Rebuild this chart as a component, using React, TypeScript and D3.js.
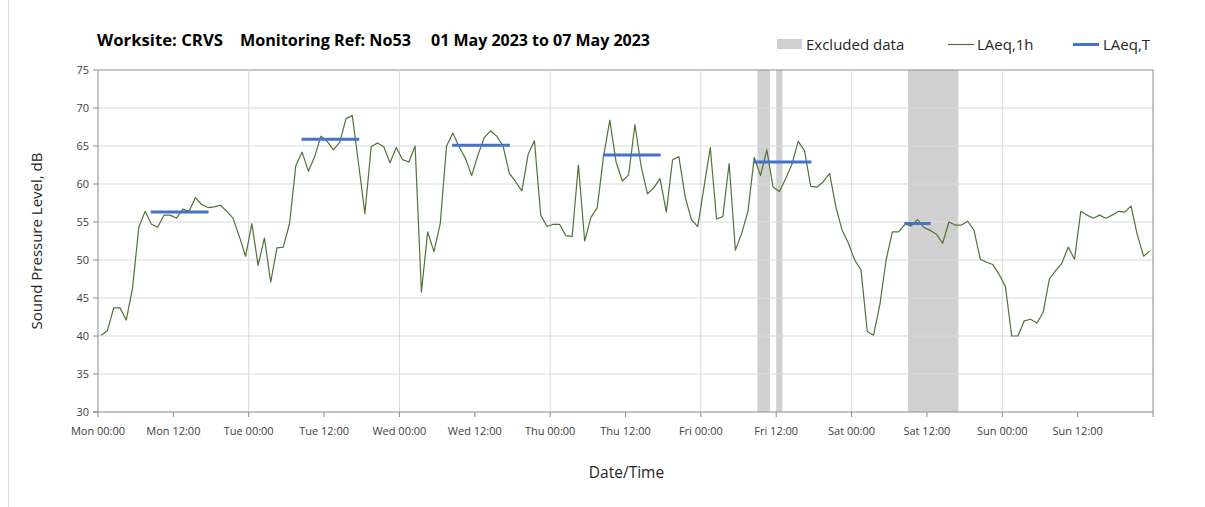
import React from "react";
import * as d3 from "d3";

// Hourly LAeq,1h values (dB), one per hour starting Mon 00:00, plotted at mid-hour
const laeq1h: number[] = [
  40.1, 40.7, 43.7, 43.7, 42.1, 46.3, 54.3, 56.4, 54.7, 54.3, 55.9, 55.9,
  55.5, 56.7, 56.4, 58.2, 57.3, 56.9, 57.0, 57.2, 56.4, 55.5, 53.1, 50.5,
  54.8, 49.3, 52.9, 47.1, 51.6, 51.7, 54.8, 62.4, 64.2, 61.7, 63.6, 66.3,
  65.6, 64.5, 65.5, 68.6, 69.0, 62.6, 56.1, 64.9, 65.4, 64.9, 62.8, 64.8,
  63.2, 62.9, 65.0, 45.8, 53.7, 51.1, 54.8, 65.0, 66.7, 64.9, 63.4, 61.1,
  63.8, 66.1, 67.0, 66.3, 65.0, 61.4, 60.3, 59.1, 63.9, 65.7, 55.9, 54.4,
  54.7, 54.7, 53.2, 53.1, 62.5, 52.5, 55.6, 56.9, 63.6, 68.4, 62.9, 60.4,
  61.2, 67.8, 62.3, 58.7, 59.5, 60.7, 56.3, 63.2, 63.6, 58.3, 55.3, 54.4,
  59.6, 64.8, 55.4, 55.7, 62.7, 51.3, 53.5, 56.4, 63.5, 61.1, 64.5, 59.6,
  59.0, 60.7, 62.6, 65.6, 64.4, 59.7, 59.6, 60.3, 61.4, 57.0, 53.9, 52.2,
  50.0, 48.7, 40.6, 40.1, 44.1, 50.0, 53.7, 53.7, 54.7, 54.5, 55.3, 54.3,
  53.9, 53.4, 52.2, 55.0, 54.6, 54.6, 55.1, 53.9, 50.1, 49.7, 49.4, 48.1,
  46.5, 40.0, 40.0, 42.0, 42.2, 41.7, 43.1, 47.5, 48.6, 49.6, 51.7, 50.1,
  56.4, 55.9, 55.5, 55.9, 55.5, 55.9, 56.4, 56.3, 57.1, 53.3, 50.5, 51.2,
];

// LAeq,T period values (start hour, end hour, level)
const laeqTStart: number[] = [8.4, 32.4, 56.4, 80.4, 104.4, 128.4];
const laeqTEnd: number[] = [17.6, 41.6, 65.6, 89.6, 113.6, 132.6];
const laeqTLevel: number[] = [56.3, 65.9, 65.1, 63.8, 62.9, 54.8];

// Excluded data periods (hours from Mon 00:00)
const excludedStart: number[] = [105, 108, 129];
const excludedEnd: number[] = [107, 109, 137];

const dayNames: string[] = ["Mon", "Tue", "Wed", "Thu", "Fri", "Sat", "Sun"];
const yTicks: number[] = [30, 35, 40, 45, 50, 55, 60, 65, 70, 75];
const titleParts: string[] = ["Worksite: CRVS", "Monitoring Ref: No53", "01 May 2023 to 07 May 2023"];

const FONT = "'Open Sans', 'DejaVu Sans', sans-serif";

export default function App() {
  const W = 1205;
  const H = 507;
  const left = 98, right = 1153, top = 70, bottom = 412;
  const x = d3.scaleLinear().domain([0, 168]).range([left, right]);
  const y = d3.scaleLinear().domain([30, 75]).range([bottom, top]);

  const line = d3
    .line<number>()
    .x((_, i) => x(i + 0.5))
    .y((d) => y(d));

  const xTicks = d3.range(0, 169, 12);
  const dayLines = d3.range(24, 168, 24);
  const titleX = [97, 240, 431];
  const titleW = [126, 171, 219];

  return (
    <svg
      width={W}
      height={H}
      style={{ position: "absolute", left: 0, top: 0, background: "#fff" }}
      fontFamily={FONT}
    >
      <rect x={0} y={0} width={W} height={H} fill="#fff" />
      <line x1={8.5} x2={8.5} y1={0} y2={H} stroke="#d9d9d9" />

      {/* Title */}
      <g fontWeight="bold" fontSize={16} fill="#000">
        {titleParts.map((t, i) => (
          <text key={"t" + i} x={titleX[i]} y={46} textLength={titleW[i]} lengthAdjust="spacingAndGlyphs">
            {t}
          </text>
        ))}
      </g>

      {/* Legend */}
      <g fontSize={15} fill="#262626">
        <rect x={777} y={39} width={25} height={10} fill="#d0d0d0" />
        <text x={806} y={50}>Excluded data</text>
        <line x1={948} x2={974} y1={44.5} y2={44.5} stroke="#4f7436" strokeWidth={1.2} />
        <text x={977} y={50}>LAeq,1h</text>
        <line x1={1073} x2={1099} y1={44.5} y2={44.5} stroke="#4472c4" strokeWidth={3} />
        <text x={1103} y={50}>LAeq,T</text>
      </g>

      {/* Excluded data bands */}
      {excludedStart.map((s, i) => (
        <rect
          key={"ex" + i}
          x={x(s)}
          y={top}
          width={x(excludedEnd[i]) - x(s)}
          height={bottom - top}
          fill="#d0d0d0"
        />
      ))}

      {/* Grid */}
      {yTicks.map((t) =>
        t === 30 ? null : (
          <line
            key={"gy" + t}
            x1={left}
            x2={right}
            y1={y(t)}
            y2={y(t)}
            stroke={t === 75 ? "#8c8c8c" : "#d9d9d9"}
            strokeWidth={1}
          />
        )
      )}
      {dayLines.map((h) => (
        <line key={"gx" + h} x1={x(h)} x2={x(h)} y1={top} y2={bottom} stroke="#d9d9d9" />
      ))}

      {/* Axes */}
      <line x1={left} x2={left} y1={top} y2={bottom} stroke="#8c8c8c" />
      <line x1={right} x2={right} y1={top} y2={bottom} stroke="#8c8c8c" />
      <line x1={left - 5} x2={right} y1={bottom} y2={bottom} stroke="#8c8c8c" />
      {yTicks.map((t) => (
        <g key={"ty" + t}>
          <line x1={left - 5} x2={left} y1={y(t)} y2={y(t)} stroke="#8c8c8c" />
          <text x={left - 9} y={y(t) + 4} fontSize={11} textAnchor="end" fill="#404040">
            {t}
          </text>
        </g>
      ))}
      {xTicks.map((h) => (
        <g key={"tx" + h}>
          <line x1={x(h)} x2={x(h)} y1={bottom} y2={bottom + 5} stroke="#8c8c8c" />
          {h < 168 && (
            <text x={x(h)} y={bottom + 23} fontSize={11} textAnchor="middle" fill="#404040">
              {dayNames[Math.floor(h / 24)] + " " + (h % 24 === 0 ? "00:00" : "12:00")}
            </text>
          )}
        </g>
      ))}

      {/* LAeq,1h line */}
      <path d={line(laeq1h) || ""} fill="none" stroke="#4f7436" strokeWidth={1.2} strokeLinejoin="round" />

      {/* LAeq,T segments */}
      {laeqTStart.map((s, i) => (
        <line
          key={"lt" + i}
          x1={x(s)}
          x2={x(laeqTEnd[i])}
          y1={y(laeqTLevel[i])}
          y2={y(laeqTLevel[i])}
          stroke="#4472c4"
          strokeWidth={3}
        />
      ))}

      {/* Axis titles */}
      <text x={(left + right) / 2 + 1} y={478} fontSize={15.5} textAnchor="middle" fill="#262626">
        Date/Time
      </text>
      <text
        transform={`translate(42, ${(top + bottom) / 2}) rotate(-90)`}
        fontSize={15}
        textAnchor="middle"
        fill="#262626"
      >
        Sound Pressure Level, dB
      </text>
    </svg>
  );
}
